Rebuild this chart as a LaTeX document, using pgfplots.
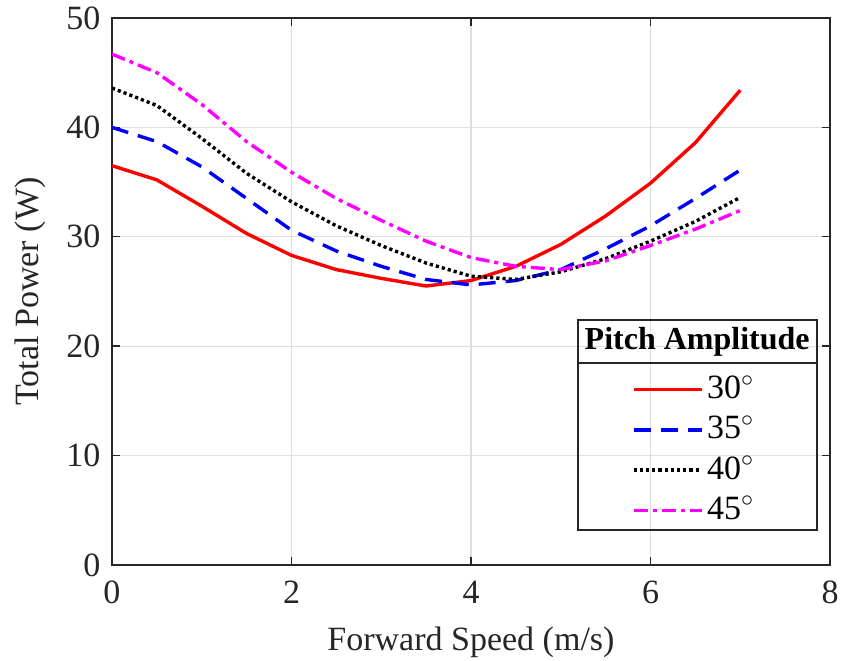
\documentclass[border=0pt]{standalone}
\usepackage{fontspec}
\setmainfont{Liberation Serif}
\usepackage{pgfplots}
\pgfplotsset{compat=1.18}

\definecolor{axisgray}{RGB}{38,38,38}
\definecolor{gridgray}{RGB}{223,223,223}
\definecolor{pureMagenta}{RGB}{255,0,255}
\definecolor{pureRed}{RGB}{255,0,0}
\definecolor{pureBlue}{RGB}{0,0,255}

\begin{document}
\fontsize{17}{20}\selectfont
\begin{tikzpicture}
\begin{axis}[
  name=main,
  scale only axis,
  width=359pt, height=273.5pt,
  xmin=0, xmax=8, ymin=0, ymax=50,
  xtick={0,2,...,8}, ytick={0,10,...,50},
  grid=major,
  major grid style={gridgray, line width=0.6pt},
  axis line style={axisgray, line width=0.7pt},
  tick style={axisgray, line width=0.7pt},
  tick align=inside,
  major tick length=4pt,
  tick label style={font=\fontsize{17}{20}\selectfont, text=axisgray},
  xticklabel style={yshift=-2pt},
  label style={font=\fontsize{17}{20}\selectfont, text=axisgray},
  ylabel style={yshift=-1.5pt},
  /pgf/number format/assume math mode=true,
  xlabel={Forward Speed (m/s)},
  ylabel={Total Power (W)},
  legend style={
    at={(0.812,0.362)}, anchor=north,
    draw=none, fill=none,
    font=\fontsize{17}{20}\selectfont,
    row sep=2pt,
    /tikz/every even column/.append style={column sep=1pt},
  },
  legend cell align=left,
  legend image code/.code={\draw[#1] (0pt,0pt) -- (34pt,0pt);},
]
% 30 deg pitch amplitude
\addplot[pureRed, line width=1.7pt] coordinates {
  (0,36.5) (0.5,35.2) (1,32.8) (1.5,30.3) (2,28.3) (2.5,27.0) (3,26.2)
  (3.5,25.5) (4,26.0) (4.5,27.3) (5,29.3) (5.5,31.9) (6,34.9) (6.5,38.6) (7,43.4)};
\addlegendentry{30$^\circ$}
% 35 deg pitch amplitude
\addplot[pureBlue, line width=1.7pt, dash pattern=on 8.5pt off 5pt] coordinates {
  (0,40.0) (0.5,38.7) (1,36.4) (1.5,33.5) (2,30.6) (2.5,28.7) (3,27.3)
  (3.5,26.1) (4,25.6) (4.5,26.0) (5,27.0) (5.5,28.9) (6,31.0) (6.5,33.5) (7,36.1)};
\addlegendentry{35$^\circ$}
% 40 deg pitch amplitude
\addplot[black, line width=1.7pt, dash pattern=on 1.6pt off 1.5pt] coordinates {
  (0,43.6) (0.5,42.0) (1,39.0) (1.5,35.8) (2,33.2) (2.5,31.0) (3,29.2)
  (3.5,27.6) (4,26.4) (4.5,26.1) (5,26.8) (5.5,28.0) (6,29.6) (6.5,31.4) (7,33.6)};
\addlegendentry{40$^\circ$}
% 45 deg pitch amplitude
\addplot[pureMagenta, line width=1.7pt, dash pattern=on 7pt off 2.5pt on 2pt off 2.5pt] coordinates {
  (0,46.7) (0.5,45.0) (1,42.1) (1.5,38.7) (2,35.9) (2.5,33.5) (3,31.5)
  (3.5,29.6) (4,28.1) (4.5,27.3) (5,27.0) (5.5,27.8) (6,29.2) (6.5,30.7) (7,32.4)};
\addlegendentry{45$^\circ$}

% legend frame with its title row
\draw[axisgray, line width=0.7pt, fill=none]
  (axis cs:5.19,22.4) rectangle (axis cs:7.855,3.2);
\draw[axisgray, line width=0.7pt] (axis cs:5.19,18.46) -- (axis cs:7.855,18.46);
\node[font=\fontsize{16}{20}\selectfont\bfseries, text=black]
  at (axis cs:6.52,20.43) {Pitch Amplitude};
\end{axis}
\pgfresetboundingbox
\path[use as bounding box]
  ([shift={(-56pt,-48pt)}]main.south west) rectangle ([shift={(6.5pt,9pt)}]main.north east);
\end{tikzpicture}
\end{document}
